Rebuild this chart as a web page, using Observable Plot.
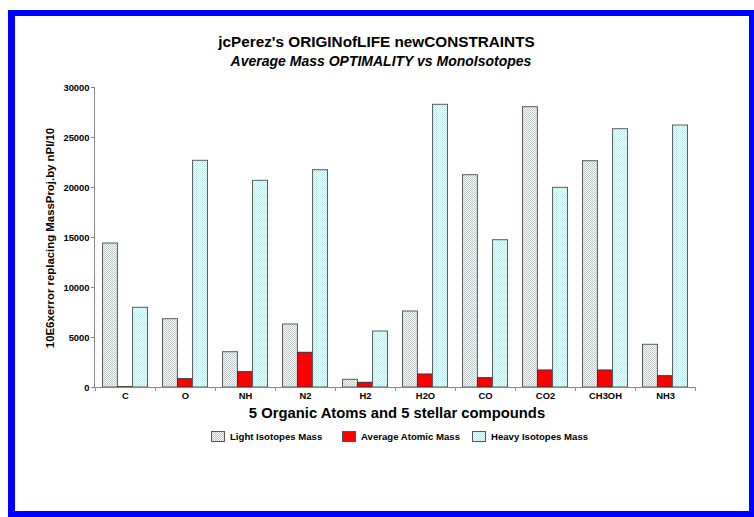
<!DOCTYPE html>
<html>
<head>
<meta charset="utf-8">
<script src="https://cdn.jsdelivr.net/npm/d3@7"></script>
<script src="https://cdn.jsdelivr.net/npm/@observablehq/plot@0.6"></script>
<style>
  html, body { margin: 0; padding: 0; background: #fff; }
  #wrap { position: relative; width: 754px; height: 517px; overflow: hidden; font-family: "Liberation Sans", Arial, sans-serif; }
  #frame { position: absolute; left: 8px; top: 10px; width: 754px; height: 517px; box-sizing: border-box; border-left: 7px solid #0000ff; border-top: 6px solid #0000ff; pointer-events: none; }
  #frameR { position: absolute; left: 749px; top: 10px; width: 5px; height: 507px; background: #0000ff; }
  #frameB { position: absolute; left: 8px; top: 511px; width: 746px; height: 6px; background: #0000ff; }
  #chart { position: absolute; left: 0; top: 0; }
  .t { position: absolute; white-space: nowrap; color: #000; }
  #title { left: 0; width: 753px; top: 33px; text-align: center; font-weight: bold; font-size: 15.3px; }
  #subtitle { left: 0; width: 762px; top: 53px; text-align: center; font-weight: bold; font-style: italic; font-size: 14px; }
  #xtitle { left: 0; width: 794px; top: 405px; text-align: center; font-weight: bold; font-size: 14.8px; }
  #ytitle { left: 50px; top: 238px; transform: translate(-50%, -50%) rotate(-90deg); font-weight: bold; font-size: 11.4px; }
  .item { position: absolute; top: 431px; display: flex; align-items: center; font-weight: bold; font-size: 9.6px; white-space: nowrap; }
  .sw { width: 14px; height: 11px; box-sizing: border-box; border: 1px solid #555; margin-right: 5px; }
</style>
</head>
<body>
<div id="wrap">
  <div id="chart"></div>
  <div id="frame"></div>
  <div id="frameR"></div>
  <div id="frameB"></div>
  <div class="t" id="title">jcPerez's ORIGINofLIFE newCONSTRAINTS</div>
  <div class="t" id="subtitle">Average Mass OPTIMALITY vs MonoIsotopes</div>
  <div class="t" id="xtitle">5 Organic Atoms and 5 stellar compounds</div>
  <div class="t" id="ytitle">10E6xerror replacing MassProj.by nPI/10</div>
</div>
<script>
const categories = ["C", "O", "NH", "N2", "H2", "H2O", "CO", "CO2", "CH3OH", "NH3"];
const lightIsotopes = [14400, 6830, 3530, 6300, 770, 7600, 21230, 28030, 22630, 4270];
const averageAtomic = [30, 830, 1530, 3470, 470, 1300, 930, 1700, 1700, 1130];
const heavyIsotopes = [7970, 22670, 20670, 21730, 5600, 28270, 14730, 19970, 25830, 26200];
const seriesNames = ["Light Isotopes Mass", "Average Atomic Mass", "Heavy Isotopes Mass"];
const yTicks = [0, 5000, 10000, 15000, 20000, 25000, 30000];

const W = 754, H = 517, ML = 94, MR = 59, MT = 87, MB = 130;
const bw = (W - ML - MR) / categories.length;
const pad = bw * 0.125, bar = bw * 0.25;

const rows = s => categories.map((c, i) => ({cat: c, value: s[i]}));
const lightRows = rows(lightIsotopes), avgRows = rows(averageAtomic), heavyRows = rows(heavyIsotopes);

const barStroke = "#5a5a5a";

const chart = Plot.plot({
  width: W, height: H,
  marginLeft: ML, marginRight: MR, marginTop: MT, marginBottom: MB,
  style: {fontFamily: "'Liberation Sans', Arial, sans-serif", fontSize: "9.4px", fontWeight: "bold", background: "transparent", overflow: "visible"},
  x: {domain: categories, padding: 0, label: null},
  y: {domain: [0, 30000], label: null},
  marks: [
    Plot.barY(lightRows, {x: "cat", y: "value", fill: "url(#lightPat)", stroke: barStroke, strokeWidth: 1, insetLeft: pad, insetRight: bw - pad - bar}),
    Plot.barY(avgRows, {x: "cat", y: "value", fill: "#ff0000", stroke: "#333", strokeWidth: 1, insetLeft: pad + bar, insetRight: pad + bar}),
    Plot.barY(heavyRows, {x: "cat", y: "value", fill: "url(#heavyPat)", stroke: barStroke, strokeWidth: 1, insetLeft: pad + 2 * bar, insetRight: pad}),
    Plot.frame({anchor: "left", stroke: "#888"}),
    Plot.frame({anchor: "bottom", stroke: "#888"}),
    Plot.axisY({ticks: yTicks, tickFormat: d3.format("d"), tickSize: 3, tickPadding: 2, stroke: "#888", label: null, fill: "#000"}),
    Plot.axisX({tickSize: 0, tickPadding: 5, label: null, fill: "#000"}),
    Plot.axisX({tickSize: 4, text: null, label: null, dx: -bw / 2, stroke: "#888"}),
    Plot.axisX({ticks: [categories[categories.length - 1]], tickSize: 4, text: null, label: null, dx: bw / 2, stroke: "#888"})
  ]
});

const defs = d3.select(chart).insert("defs", ":first-child");
const lp = defs.append("pattern").attr("id", "lightPat").attr("patternUnits", "userSpaceOnUse").attr("width", 2).attr("height", 2);
lp.append("rect").attr("width", 2).attr("height", 2).attr("fill", "#f8fbfb");
lp.append("rect").attr("width", 1).attr("height", 1).attr("fill", "#bcc4c4");
lp.append("rect").attr("x", 1).attr("y", 1).attr("width", 1).attr("height", 1).attr("fill", "#c8d0d0");
const hp = defs.append("pattern").attr("id", "heavyPat").attr("patternUnits", "userSpaceOnUse").attr("width", 2).attr("height", 2);
hp.append("rect").attr("width", 2).attr("height", 2).attr("fill", "#eefdfd");
hp.append("rect").attr("width", 1).attr("height", 1).attr("fill", "#c0e8e8");
hp.append("rect").attr("x", 1).attr("y", 1).attr("width", 1).attr("height", 1).attr("fill", "#cceeee");

document.getElementById("chart").appendChild(chart);

const swatchBg = [
  "repeating-conic-gradient(#bcc4c4 0 25%, #f8fbfb 0 50%) 0 0 / 2px 2px",
  "#ff0000",
  "repeating-conic-gradient(#c0e8e8 0 25%, #eefdfd 0 50%) 0 0 / 2px 2px"
];
const itemLeft = [211, 342, 472];
const wrap = document.getElementById("wrap");
seriesNames.forEach((name, i) => {
  const item = document.createElement("div");
  item.className = "item";
  item.style.left = itemLeft[i] + "px";
  const sw = document.createElement("div");
  sw.className = "sw";
  sw.style.background = swatchBg[i];
  const tx = document.createElement("span");
  tx.textContent = name;
  item.appendChild(sw); item.appendChild(tx);
  wrap.appendChild(item);
});
</script>
</body>
</html>
